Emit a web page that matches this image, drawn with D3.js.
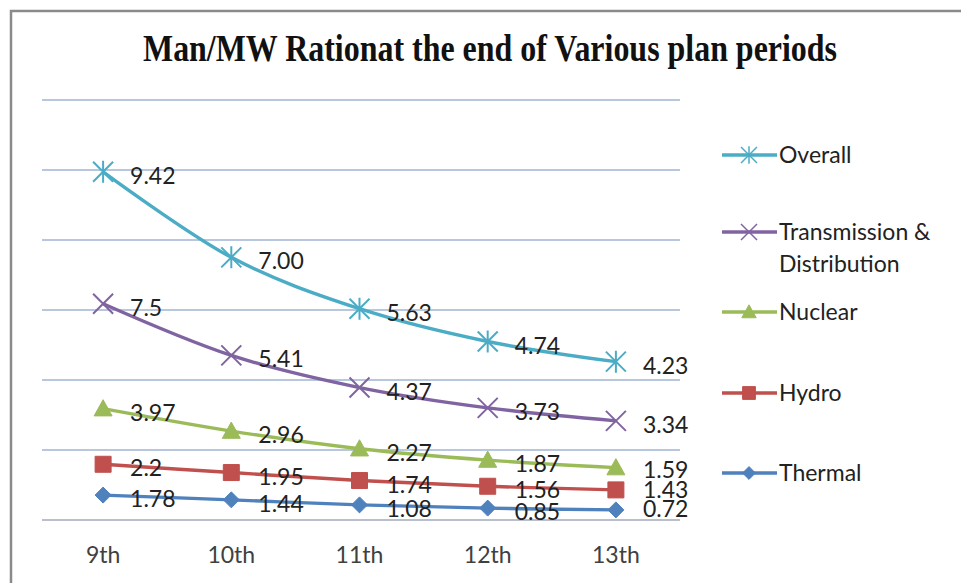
<!DOCTYPE html>
<html><head><meta charset="utf-8">
<script src="https://cdn.jsdelivr.net/npm/d3@7"></script>
<style>body{margin:0;background:#fff}svg{display:block}</style>
</head><body>
<script>
const categories = ["9th","10th","11th","12th","13th"];
const seriesNames = ["Thermal","Hydro","Nuclear","Transmission & Distribution","Overall"];
const thermal = [1.78,1.44,1.08,0.85,0.72];
const hydro = [2.2,1.95,1.74,1.56,1.43];
const nuclear = [3.97,2.96,2.27,1.87,1.59];
const transmission = [7.5,5.41,4.37,3.73,3.34];
const overall = [9.42,7.00,5.63,4.74,4.23];
const labelText = [
  ["1.78","1.44","1.08","0.85","0.72"],
  ["2.2","1.95","1.74","1.56","1.43"],
  ["3.97","2.96","2.27","1.87","1.59"],
  ["7.5","5.41","4.37","3.73","3.34"],
  ["9.42","7.00","5.63","4.74","4.23"]
];
const yTicks = [0,5,10,15,20,25,30];
const colors = ["#4f81bd","#c0504d","#9bbb59","#8064a2","#4bacc6"];
const markers = ["diamond","square","triangle","x","star"];

const W=961,H=583;
const FONT="Lato, Open Sans, sans-serif";
const svg=d3.select("body").append("svg").attr("width",W).attr("height",H);
svg.append("path").attr("d","M11,583 V11 H961").attr("fill","none").attr("stroke","#8a8a8a").attr("stroke-width",2.5);

svg.append("text").attr("x",490).attr("y",61).attr("text-anchor","middle")
  .attr("font-family","Liberation Serif, Times New Roman, serif").attr("font-weight","bold")
  .attr("font-size",37).attr("fill","#111").attr("textLength",694).attr("lengthAdjust","spacingAndGlyphs")
  .text("Man/MW Rationat the end of Various plan periods");

const x=d3.scaleBand().domain(categories).range([39,680]);
const cx=c=>x(c)+x.bandwidth()/2;
const y=d3.scaleLinear().domain([0,30]).range([520,100]);

svg.append("g").selectAll("line").data(yTicks).join("line")
  .attr("x1",42).attr("x2",680).attr("y1",d=>y(d)).attr("y2",d=>y(d))
  .attr("stroke",(d)=>d===0?"#b9bfcc":"#b8c6de").attr("stroke-width",2);

svg.append("g").selectAll("text").data(categories).join("text")
  .attr("x",d=>cx(d)).attr("y",563).attr("text-anchor","middle")
  .attr("font-family",FONT).attr("font-size",23).attr("fill","#404040")
  .text(d=>d);

const data=[thermal,hydro,nuclear,transmission,overall];
const stackRows=categories.map((c,i)=>{const o={cat:c};seriesNames.forEach((s,k)=>o[s]=data[k][i]);return o;});
const stacked=d3.stack().keys(seriesNames)(stackRows);

function markerPath(type,s){
  if(type==="diamond") return `M0,${-s}L${s},0L0,${s}L${-s},0Z`;
  if(type==="square") return `M${-s},${-s}H${s}V${s}H${-s}Z`;
  if(type==="triangle") return `M0,${-s}L${s},${s*0.8}L${-s},${s*0.8}Z`;
  if(type==="x") return `M${-s},${-s}L${s},${s}M${-s},${s}L${s},${-s}`;
  if(type==="star") return `M${-s},${-s}L${s},${s}M${-s},${s}L${s},${-s}M0,${-s*1.1}V${s*1.1}`;
}
const msize={diamond:8,square:8,triangle:9,x:10,star:10};
const lastOffset=[7,8,10,12,12];

const line=d3.line().x(d=>cx(d.data.cat)).y(d=>y(d[1])).curve(d3.curveCatmullRom.alpha(0));
for(let k=stacked.length-1;k>=0;k--){
  const s=stacked[k];
  const g=svg.append("g");
  g.append("path").attr("d",line(s)).attr("fill","none").attr("stroke",colors[k]).attr("stroke-width",3.4);
  const t=markers[k];
  g.selectAll("path.m").data(s).join("path").attr("class","m")
    .attr("transform",d=>`translate(${cx(d.data.cat)},${y(d[1])})`)
    .attr("d",markerPath(t,msize[t]))
    .attr("fill",(t==="x"||t==="star")?"none":colors[k])
    .attr("stroke",colors[k]).attr("stroke-width",(t==="x"||t==="star")?2:1);
  g.selectAll("text").data(s).join("text")
    .attr("x",d=>cx(d.data.cat)+27).attr("y",(d,i)=>y(d[1])+(i===4?lastOffset[k]:12))
    .attr("font-family",FONT).attr("font-size",23).attr("fill","#222")
    .text((d,i)=>labelText[k][i]);
}

const legend=[
  {k:4,y:155,lines:["Overall"]},
  {k:3,y:232,lines:["Transmission &","Distribution"]},
  {k:2,y:312,lines:["Nuclear"]},
  {k:1,y:393,lines:["Hydro"]},
  {k:0,y:473,lines:["Thermal"]}
];
const lg=svg.append("g");
legend.forEach(L=>{
  const g=lg.append("g");
  g.append("line").attr("x1",722).attr("x2",777).attr("y1",L.y).attr("y2",L.y).attr("stroke",colors[L.k]).attr("stroke-width",3.4);
  const t=markers[L.k];
  g.append("path").attr("transform",`translate(749,${L.y})`).attr("d",markerPath(t,msize[t]*0.8))
    .attr("fill",(t==="x"||t==="star")?"none":colors[L.k]).attr("stroke",colors[L.k]).attr("stroke-width",(t==="x"||t==="star")?1.5:1);
  L.lines.forEach((ln,i)=>g.append("text").attr("x",779).attr("y",L.y+8+i*32)
    .attr("font-family",FONT).attr("font-size",23).attr("fill","#222").text(ln));
});
</script>
</body></html>
